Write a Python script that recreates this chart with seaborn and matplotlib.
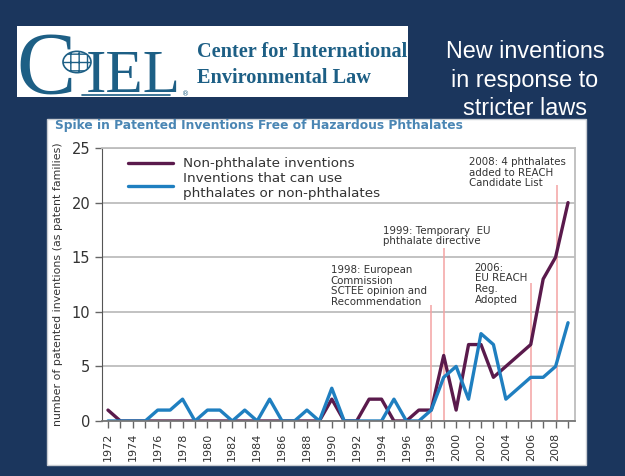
import pandas as pd
import matplotlib.pyplot as plt
import matplotlib.patches as mpatches
import seaborn as sns

# Data
years = list(range(1972, 2010))
non_phthalate = [1, 0, 0, 0, 0, 0, 0, 0, 0, 0, 0, 0, 0, 0, 0, 0, 0, 0, 2, 0,
                 0, 2, 2, 0, 0, 1, 1, 6, 1, 7, 7, 4, 5, 6, 7, 13, 15, 20]
either = [0, 0, 0, 0, 1, 1, 2, 0, 1, 1, 0, 1, 0, 2, 0, 0, 1, 0, 3, 0,
          0, 0, 0, 2, 0, 0, 1, 4, 5, 2, 8, 7, 2, 3, 4, 4, 5, 9]
series_names = ["Non-phthalate inventions",
                "Inventions that can use\nphthalates or non-phthalates"]

event_years = [1998, 1999, 2006, 2008.1]
event_labels = ["1998: European\nCommission\nSCTEE opinion and\nRecommendation",
                "1999: Temporary  EU\nphthalate directive",
                "2006:\nEU REACH\nReg.\nAdopted",
                "2008: 4 phthalates\nadded to REACH\nCandidate List"]

df = pd.DataFrame({
    "year": years * 2,
    "count": non_phthalate + either,
    "series": [series_names[0]] * len(years) + [series_names[1]] * len(years),
})

sns.set_style("white")
plt.rcParams['font.family'] = ['DejaVu Sans']

W, H = 625, 476
navy = "#1b365d"
teal = "#1d5f85"
fig = plt.figure(figsize=(W / 100, H / 100), dpi=100)
fig.patch.set_facecolor(navy)


def px(x, y):
    return x / W, 1 - y / H


# logo box
fig.add_artist(mpatches.Rectangle(px(17, 97), 391 / W, 71 / H, transform=fig.transFigure,
                                  facecolor="white", edgecolor="none", zorder=-2))
fig.text(*px(16, 93), "C", family="Liberation Serif", fontsize=64, color=teal, va="baseline", ha="left")
fig.add_artist(mpatches.Circle(px(77, 62), 14 / W, transform=fig.transFigure, facecolor="white",
                               edgecolor=teal, hatch="++", linewidth=1.2))
fig.text(*px(86, 92), "IEL", family="Liberation Serif", fontsize=44, color=teal, va="baseline", ha="left")
fig.add_artist(plt.Line2D([82 / W, 170 / W], [1 - 95 / H, 1 - 95 / H], transform=fig.transFigure,
                          color=teal, linewidth=1.2))
fig.text(*px(182, 94), "®", fontsize=5, color=teal, va="center")
fig.text(*px(197, 52), "Center for International", family="Liberation Serif", weight="bold",
         fontsize=14.6, color=teal, va="center")
fig.text(*px(197, 78), "Environmental Law", family="Liberation Serif", weight="bold",
         fontsize=14.6, color=teal, va="center")

# slide title
fig.text(*px(525, 80), "New inventions\nin response to\nstricter laws", family="Liberation Sans",
         fontsize=16.8, color="white", ha="center", va="center", linespacing=1.3)

# chart panel
fig.add_artist(mpatches.Rectangle(px(47, 465), 539 / W, 346 / H, transform=fig.transFigure,
                                  facecolor="white", edgecolor="#c8ccd2", linewidth=1, zorder=-2))
fig.text(*px(55, 126), "Spike in Patented Inventions Free of Hazardous Phthalates",
         fontsize=8.8, weight="bold", color="#4a86b4", va="center")

ax = fig.add_axes([102 / W, 1 - 421 / H, 473 / W, 273 / H])
ax.set_facecolor("white")
sns.lineplot(data=df, x="year", y="count", hue="series", ax=ax,
             palette=["#5a1a4c", "#1f7fc0"], linewidth=2.4, legend=True)

tops = [10.6, 15.8, 12.6, 21.6]
ax.vlines(event_years, 0, tops, color="#f4a3a3", linewidth=1.1, zorder=1)
text_pos = [(1989.9, 14.3), (1994.1, 17.9), (2001.5, 14.5), (2001.0, 24.2)]
for (tx, ty), lab in zip(text_pos, event_labels):
    ax.text(tx, ty, lab, fontsize=7.4, color="#333333", va="top", ha="left", linespacing=1.1)

ax.set_xlim(1971.52, 2009.56)
ax.set_ylim(0, 25)
ax.set_xticks(range(1972, 2010, 2))
ax.set_xticks(range(1972, 2010), minor=True)
ax.set_yticks([0, 5, 10, 15, 20, 25])
ax.tick_params(axis="x", which="both", direction="out", length=5, width=1, color="#666666",
               labelrotation=90, labelsize=8, labelcolor="#333333", bottom=True)
ax.tick_params(axis="y", direction="out", length=5, width=1, color="#666666",
               labelsize=10.5, labelcolor="#333333", left=True)
ax.yaxis.grid(True, color="#bdbdbd", linewidth=1.3)
ax.set_axisbelow(True)
for side in ["top", "right", "bottom"]:
    ax.spines[side].set_color("#bdbdbd")
    ax.spines[side].set_linewidth(1.3)
ax.spines["left"].set_color("#555555")
ax.spines["bottom"].set_color("#777777")
ax.set_xlabel("")
ax.set_ylabel("number of patented inventions (as patent families)", fontsize=7.9, color="#333333",
              labelpad=6)

leg = ax.legend(loc="upper left", bbox_to_anchor=(0.044, 0.985), frameon=False, fontsize=9.7,
                handlelength=3.3, handletextpad=0.8, labelspacing=0.1, borderaxespad=0)
for t in leg.get_texts():
    t.set_color("#333333")

fig.savefig("out.png", dpi=100, facecolor=fig.get_facecolor())
